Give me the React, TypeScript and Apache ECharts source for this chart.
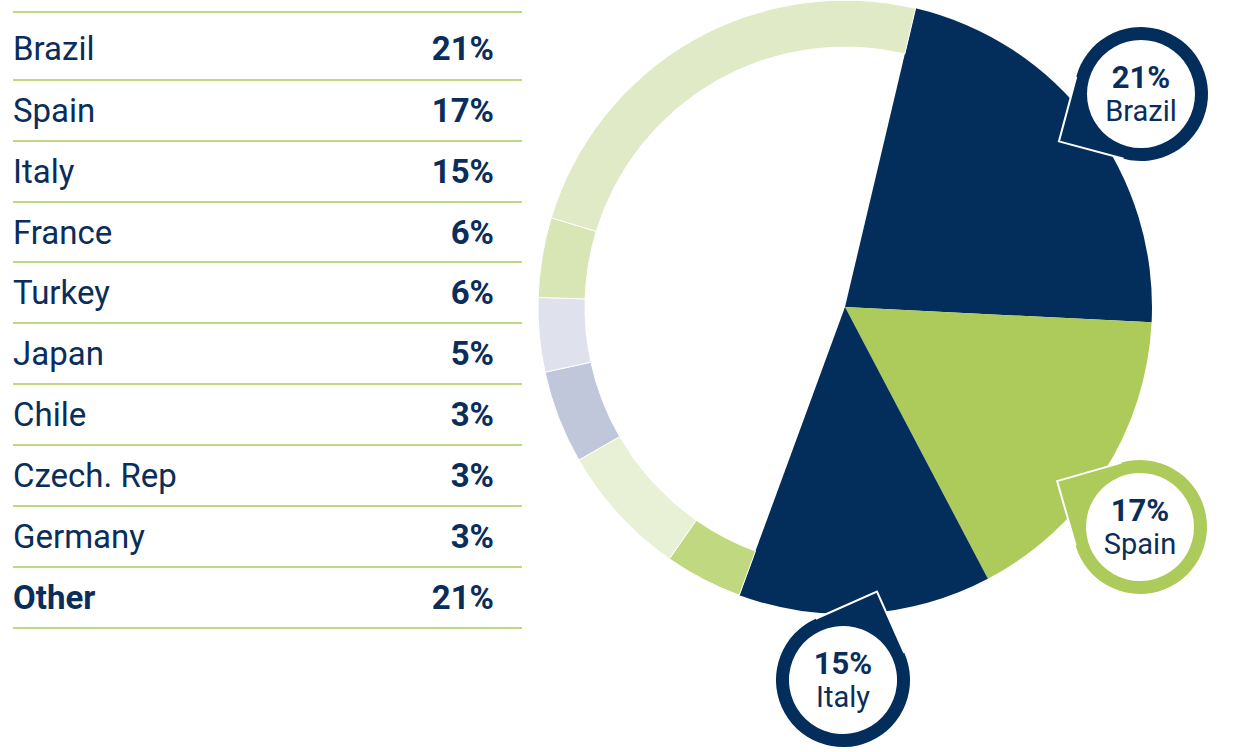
import React, { useEffect, useRef } from "react";
import * as echarts from "echarts";

// Table data
const countries = ["Brazil", "Spain", "Italy", "France", "Turkey", "Japan", "Chile", "Czech. Rep", "Germany", "Other"];
const shares = [21, 17, 15, 6, 6, 5, 3, 3, 3, 21];

// Pie slices (degrees converted to %)
const wedgeNames = ["Brazil", "Spain", "Italy"];
const wedgeValues = [22.1, 16.5, 13.3];
const ringNames = ["France", "Turkey", "Japan", "Chile", "Czech. Rep", "Germany / Other"];
const ringValues = [4.1, 7.0, 4.9, 3.9, 4.2, 24.0];

const NAVY = "#0A2D5A";
const WEDGE_COLORS = ["#032E5B", "#ADCB5A", "#032E5B"];
const RING_COLORS = ["#C0D880", "#E8F0D6", "#C0C7DA", "#DFE1EC", "#D8E6B5", "#E1EAC6"];
const LINE_COLOR = "#A9CB5B";

const FONT = "Roboto, 'Noto Sans', sans-serif";

export default function App() {
  const ref = useRef<HTMLDivElement>(null);

  useEffect(() => {
    if (!ref.current) return;
    const chart = echarts.init(ref.current, undefined, { renderer: "svg" });

    const cx = 845;
    const cy = 307;
    const R = 307;
    const Ri = 260;
    const startAngle = 90 - 13.3;

    const wedgeSum = wedgeValues.reduce((a, b) => a + b, 0);
    const ringSum = ringValues.reduce((a, b) => a + b, 0);
    const transparent = {
      itemStyle: { color: "rgba(0,0,0,0)", borderWidth: 0 },
      emphasis: { disabled: true },
    };

    // table graphics
    const lineYs = [12, 80, 141, 202, 262, 323, 384, 445, 506, 567, 628];
    const graphics: any[] = [];
    lineYs.forEach((y) => {
      graphics.push({
        type: "line",
        z: 10,
        shape: { x1: 13, y1: y, x2: 522, y2: y },
        style: { stroke: LINE_COLOR, lineWidth: 1.5 },
      });
    });
    countries.forEach((c, i) => {
      const y = (lineYs[i] + lineYs[i + 1]) / 2 + (i === 0 ? 2 : 0);
      const isOther = i === countries.length - 1;
      graphics.push({
        type: "text",
        z: 10,
        x: 13,
        y,
        style: {
          text: c,
          font: `${isOther ? 700 : 400} 33px ${FONT}`,
          fill: NAVY,
          align: "left",
          verticalAlign: "middle",
          textAlign: "left",
          textVerticalAlign: "middle",
        },
      });
      graphics.push({
        type: "text",
        z: 10,
        x: 494,
        y,
        style: {
          text: `${shares[i]}%`,
          font: `700 33px ${FONT}`,
          fill: NAVY,
          align: "right",
          verticalAlign: "middle",
          textAlign: "right",
          textVerticalAlign: "middle",
        },
      });
    });

    // callouts
    const r = 67;
    const ri = 54;
    type Corner = "bl" | "tl" | "tr";
    const callout = (
      x: number,
      y: number,
      corner: Corner,
      rotDeg: number,
      color: string,
      pct: number,
      name: string
    ) => {
      let radii: number[];
      let pts: number[][];
      if (corner === "bl") {
        radii = [r, r, r, 0];
        pts = [[-r, 0], [-r, r], [0, r]];
      } else if (corner === "tl") {
        radii = [0, r, r, r];
        pts = [[0, -r], [-r, -r], [-r, 0]];
      } else {
        radii = [r, 0, r, r];
        pts = [[0, -r], [r, -r], [r, 0]];
      }
      graphics.push({
        type: "group",
        x,
        y,
        rotation: (rotDeg * Math.PI) / 180,
        z: 20,
        children: [
          {
            type: "rect",
            z: 20,
            shape: { x: -r, y: -r, width: 2 * r, height: 2 * r, r: radii },
            style: { fill: color },
          },
          {
            type: "polyline",
            z: 21,
            shape: { points: pts },
            style: { stroke: "#ffffff", lineWidth: 2, fill: null },
          },
          {
            type: "circle",
            z: 22,
            shape: { cx: 0, cy: 0, r: ri },
            style: { fill: "#ffffff" },
          },
        ],
      });
      graphics.push({
        type: "text",
        z: 30,
        x,
        y: y - 17,
        style: {
          text: `${pct}%`,
          font: `700 31px ${FONT}`,
          fill: NAVY,
          align: "center",
          verticalAlign: "middle",
          textAlign: "center",
          textVerticalAlign: "middle",
        },
      });
      graphics.push({
        type: "text",
        z: 30,
        x,
        y: y + 17,
        style: {
          text: name,
          font: `400 29px ${FONT}`,
          fill: NAVY,
          align: "center",
          verticalAlign: "middle",
          textAlign: "center",
          textVerticalAlign: "middle",
        },
      });
    };

    callout(1141, 94, "bl", -15, WEDGE_COLORS[0], shares[0], countries[0]);
    callout(1140, 527, "tl", 16, WEDGE_COLORS[1], shares[1], countries[1]);
    callout(843, 680, "tr", 24, WEDGE_COLORS[2], shares[2], countries[2]);

    chart.setOption({
      animation: false,
      graphic: { elements: graphics },
      series: [
        {
          type: "pie",
          silent: true,
          center: [cx, cy],
          radius: [0, R],
          startAngle,
          clockwise: true,
          avoidLabelOverlap: false,
          label: { show: false },
          labelLine: { show: false },
          data: [
            ...wedgeNames.map((n, i) => ({
              name: n,
              value: wedgeValues[i],
              itemStyle: { color: WEDGE_COLORS[i], borderWidth: 0 },
            })),
            { name: "rest", value: ringSum, ...transparent },
          ],
        },
        {
          type: "pie",
          silent: true,
          center: [cx, cy],
          radius: [Ri, R],
          startAngle,
          clockwise: true,
          avoidLabelOverlap: false,
          label: { show: false },
          labelLine: { show: false },
          data: [
            { name: "top3", value: wedgeSum, ...transparent },
            ...ringNames.map((n, i) => ({
              name: n,
              value: ringValues[i],
              itemStyle: { color: RING_COLORS[i], borderColor: "#ffffff", borderWidth: 1 },
            })),
          ],
        },
      ],
    });

    return () => chart.dispose();
  }, []);

  return (
    <div
      ref={ref}
      style={{ position: "absolute", left: 0, top: 0, width: 1245, height: 752 }}
    />
  );
}
